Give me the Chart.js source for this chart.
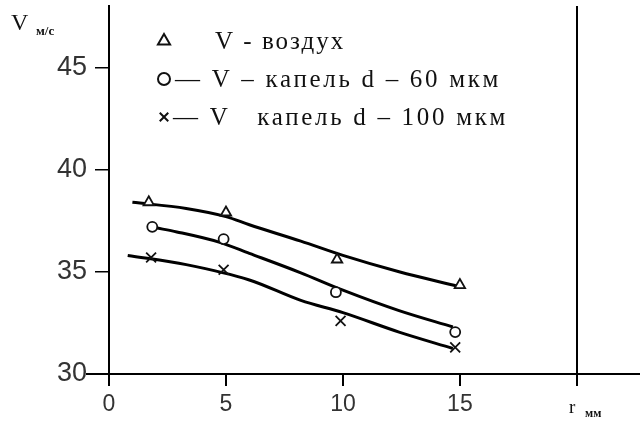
<!DOCTYPE html>
<html>
<head>
<meta charset="utf-8">
<script src="https://cdn.jsdelivr.net/npm/chart.js@4"></script>
<style>
  html, body { margin: 0; padding: 0; background: #fff; }
  #wrap { width: 640px; height: 423px; }
</style>
</head>
<body>
<div id="wrap"><canvas id="chart"></canvas></div>
<script>
// measured points, distance r (mm) vs velocity V (m/s)
const airR = [1.7, 5.0, 9.75, 15.0];
const airV = [38.4, 37.9, 35.6, 34.35];
const drop60R = [1.85, 4.9, 9.7, 14.8];
const drop60V = [37.2, 36.6, 34.0, 32.05];
const drop100R = [1.8, 4.9, 9.9, 14.8];
const drop100V = [35.7, 35.1, 32.6, 31.3];

// trend curves drawn through each series
const airFitR = [1.0, 3.3, 5.0, 6.0, 8.2, 10.0, 12.4, 14.9];
const airFitV = [38.4, 38.1, 37.7, 37.3, 36.5, 35.8, 35.0, 34.3];
const drop60FitR = [2.0, 2.9, 4.7, 6.0, 8.2, 10.0, 12.4, 14.7];
const drop60FitV = [37.15, 36.95, 36.45, 35.9, 34.95, 34.1, 33.1, 32.3];
const drop100FitR = [0.8, 3.3, 6.0, 8.2, 10.0, 12.4, 14.7];
const drop100FitV = [35.8, 35.35, 34.6, 33.6, 33.0, 32.05, 31.25];

const rTicks = [0, 5, 10, 15, 20];
const vTicks = [30, 35, 40, 45];
const legendLabels = ['V - воздух', '— V – капель d – 60 мкм', '— V   капель d – 100 мкм'];

const pairs = (xs, ys) => xs.map((x, i) => ({ x: x, y: ys[i] }));

function markers(xs, ys, style, radius) {
    return {
        data: pairs(xs, ys),
        showLine: false,
        pointStyle: style,
        pointRadius: radius,
        pointBorderColor: '#111',
        pointBackgroundColor: '#fff',
        pointBorderWidth: 1.8,
        order: 0
    };
}

function trend(xs, ys) {
    return {
        data: pairs(xs, ys),
        showLine: true,
        borderColor: '#000',
        borderWidth: 3,
        pointRadius: 0,
        cubicInterpolationMode: 'monotone',
        order: 1
    };
}

// axis titles, legend and the short stub of the r axis left of V axis
const decorations = {
    id: 'decorations',
    afterDraw(chart) {
        const ctx = chart.ctx;
        const area = chart.chartArea;
        const yScale = chart.scales.y;
        ctx.save();

        ctx.strokeStyle = '#000';
        ctx.lineWidth = 2;
        const y30 = yScale.getPixelForValue(30);
        ctx.beginPath();
        ctx.moveTo(area.left - 23, y30);
        ctx.lineTo(area.left, y30);
        ctx.stroke();

        ctx.fillStyle = '#111';
        ctx.textBaseline = 'alphabetic';
        ctx.textAlign = 'left';
        ctx.font = '24px "Liberation Serif", serif';
        ctx.fillText('V', 11, 30);
        ctx.font = 'bold 13px "Liberation Serif", serif';
        ctx.fillText('м/с', 36, 35);

        ctx.font = '19px "Liberation Serif", serif';
        ctx.fillText('r', 569, 413);
        ctx.font = 'bold 12px "Liberation Serif", serif';
        ctx.fillText('мм', 585, 417);

        // legend
        const styles = ['triangle', 'circle', 'crossRot'];
        const radii = [7, 6, 6];
        const rowsY = [41, 79, 117];
        const textX = [215, 175, 173];
        const spacing = ['2px', '2.7px', '2.7px'];
        ctx.font = '25px "Liberation Serif", serif';
        legendLabels.forEach((label, i) => {
            ctx.strokeStyle = '#111';
            ctx.fillStyle = '#fff';
            ctx.lineWidth = 2;
            Chart.helpers.drawPoint(ctx, {
                pointStyle: styles[i], radius: radii[i], rotation: 0, borderWidth: 2
            }, 164, rowsY[i]);
            ctx.fillStyle = '#111';
            ctx.textBaseline = 'middle';
            ctx.letterSpacing = spacing[i];
            ctx.fillText(label, textX[i], rowsY[i] + 1);
        });
        ctx.letterSpacing = '0px';
        ctx.restore();
    }
};

new Chart(document.getElementById('chart'), {
    type: 'scatter',
    data: {
        datasets: [
            markers(airR, airV, 'triangle', 6),
            markers(drop60R, drop60V, 'circle', 5),
            markers(drop100R, drop100V, 'crossRot', 7),
            trend(airFitR, airFitV),
            trend(drop60FitR, drop60FitV),
            trend(drop100FitR, drop100FitV)
        ]
    },
    options: {
        responsive: true,
        maintainAspectRatio: false,
        animation: false,
        // no extra room for point overflow, the plot runs to the right edge
        layout: { autoPadding: false, padding: { top: 6, right: 0, bottom: 0, left: 0 } },
        plugins: {
            legend: { display: false },
            tooltip: { enabled: false }
        },
        scales: {
            x: {
                type: 'linear',
                min: 0,
                max: 22.7,
                afterBuildTicks: s => { s.ticks = rTicks.map(v => ({ value: v })); },
                afterFit: s => {
                    s.height = 49;
                    s.paddingLeft = 0;
                    s.paddingRight = 0;
                },
                ticks: {
                    autoSkip: false,
                    maxRotation: 0,
                    padding: 5,
                    color: '#333',
                    font: { family: '"Liberation Sans", Arial, sans-serif', size: 23 },
                    callback: v => (v === 20 ? '' : v)
                },
                grid: {
                    color: c => (c.tick && c.tick.value === 20 ? '#000' : 'rgba(0,0,0,0)'),
                    lineWidth: 2,
                    tickColor: '#000',
                    tickLength: 12
                },
                border: { display: true, color: '#000', width: 2 }
            },
            y: {
                type: 'linear',
                min: 30,
                max: 48,
                afterBuildTicks: s => { s.ticks = vTicks.map(v => ({ value: v })); },
                afterFit: s => {
                    s.width = 109;
                    s.paddingTop = 0;
                    s.paddingBottom = 0;
                },
                ticks: {
                    padding: 8,
                    color: '#333',
                    font: { family: '"Liberation Sans", Arial, sans-serif', size: 27 }
                },
                grid: {
                    drawOnChartArea: false,
                    lineWidth: 1.5,
                    tickColor: '#000',
                    tickLength: 14
                },
                border: { display: true, color: '#000', width: 2 }
            }
        }
    },
    plugins: [decorations]
});
</script>
</body>
</html>
